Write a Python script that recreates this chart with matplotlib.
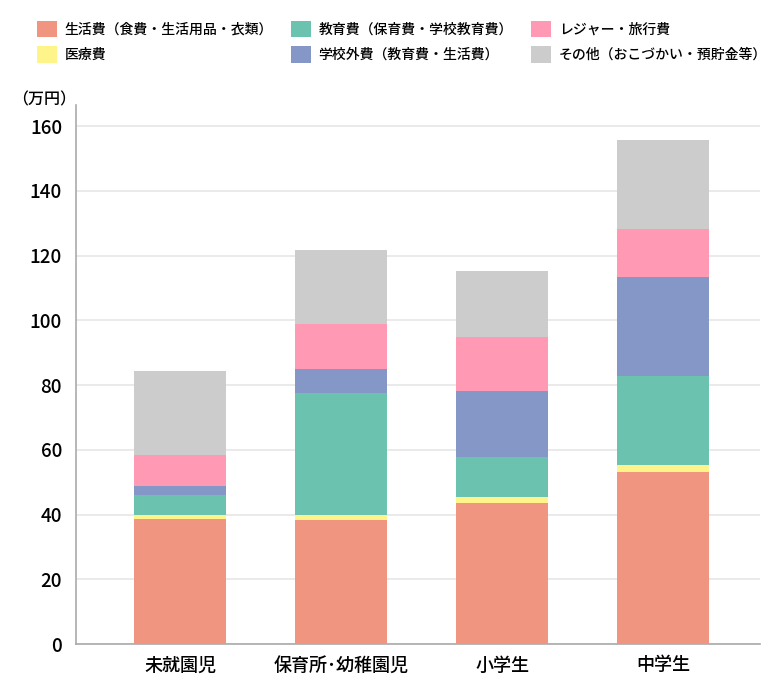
import matplotlib
matplotlib.use('Agg')
import matplotlib.pyplot as plt
import numpy as np

plt.rcParams['font.family'] = ['Noto Sans CJK JP', 'DejaVu Sans']
plt.rcParams['font.weight'] = 'medium'

categories = ['未就園児', '保育所･幼稚園児', '小学生', '中学生']
series_names = ['生活費（食費・生活用品・衣類）', '医療費',
                '教育費（保育費・学校教育費）', '学校外費（教育費・生活費）',
                'レジャー・旅行費', 'その他（おこづかい・預貯金等）']
seikatsu = [38.7, 38.3, 43.5, 53.0]
iryo = [1.0, 1.4, 1.8, 2.3]
kyoiku = [6.3, 37.9, 12.5, 27.4]
gakkougai = [2.7, 7.3, 20.2, 30.7]
leisure = [9.7, 13.8, 16.7, 14.8]
sonota = [26.0, 23.0, 20.6, 27.5]
colors = ['#F0957F', '#FFF48A', '#6BC2AE', '#8597C6', '#FF99B4', '#CCCCCC']

fig = plt.figure(figsize=(7.83, 6.91), dpi=100)
ax = fig.add_axes([76/783, 47/691, (760-76)/783, (644-105)/691])

x = np.arange(len(categories))
bottom = np.zeros(len(categories))
handles = []
for vals, name, c in zip([seikatsu, iryo, kyoiku, gakkougai, leisure, sonota], series_names, colors):
    b = ax.bar(x, vals, 0.57, bottom=bottom, color=c, label=name, zorder=3)
    handles.append(b)
    bottom += np.array(vals)

ax.set_xlim(-0.646, 3.60)
ax.set_ylim(0, 166.5)
ax.set_yticks(range(0, 161, 20))
ax.set_xticks(x)
ax.set_xticklabels(categories, fontsize=13)
ax.tick_params(axis='y', length=0, pad=10, labelsize=13.5)
ax.tick_params(axis='x', length=0, pad=9)
ax.yaxis.grid(True, color='#e6e6e6', linewidth=1.2, zorder=0)
ax.set_axisbelow(True)
for s in ['top', 'right']:
    ax.spines[s].set_visible(False)
ax.spines['left'].set_color('#aaaaaa')
ax.spines['bottom'].set_color('#aaaaaa')
ax.spines['left'].set_linewidth(1.2)
ax.spines['bottom'].set_linewidth(1.2)

fig.text(12/783, 1 - 100/691, '（万円）', fontsize=11.5, va='center', ha='left')

fig.legend(handles, series_names,
           ncol=3, loc='upper left', bbox_to_anchor=(24/783, 1 - 8/691),
           frameon=False, fontsize=10, handlelength=1.45, handleheight=1.45,
           handletextpad=0.55, columnspacing=1.3, labelspacing=0.65)

fig.savefig('out.png', dpi=100)
